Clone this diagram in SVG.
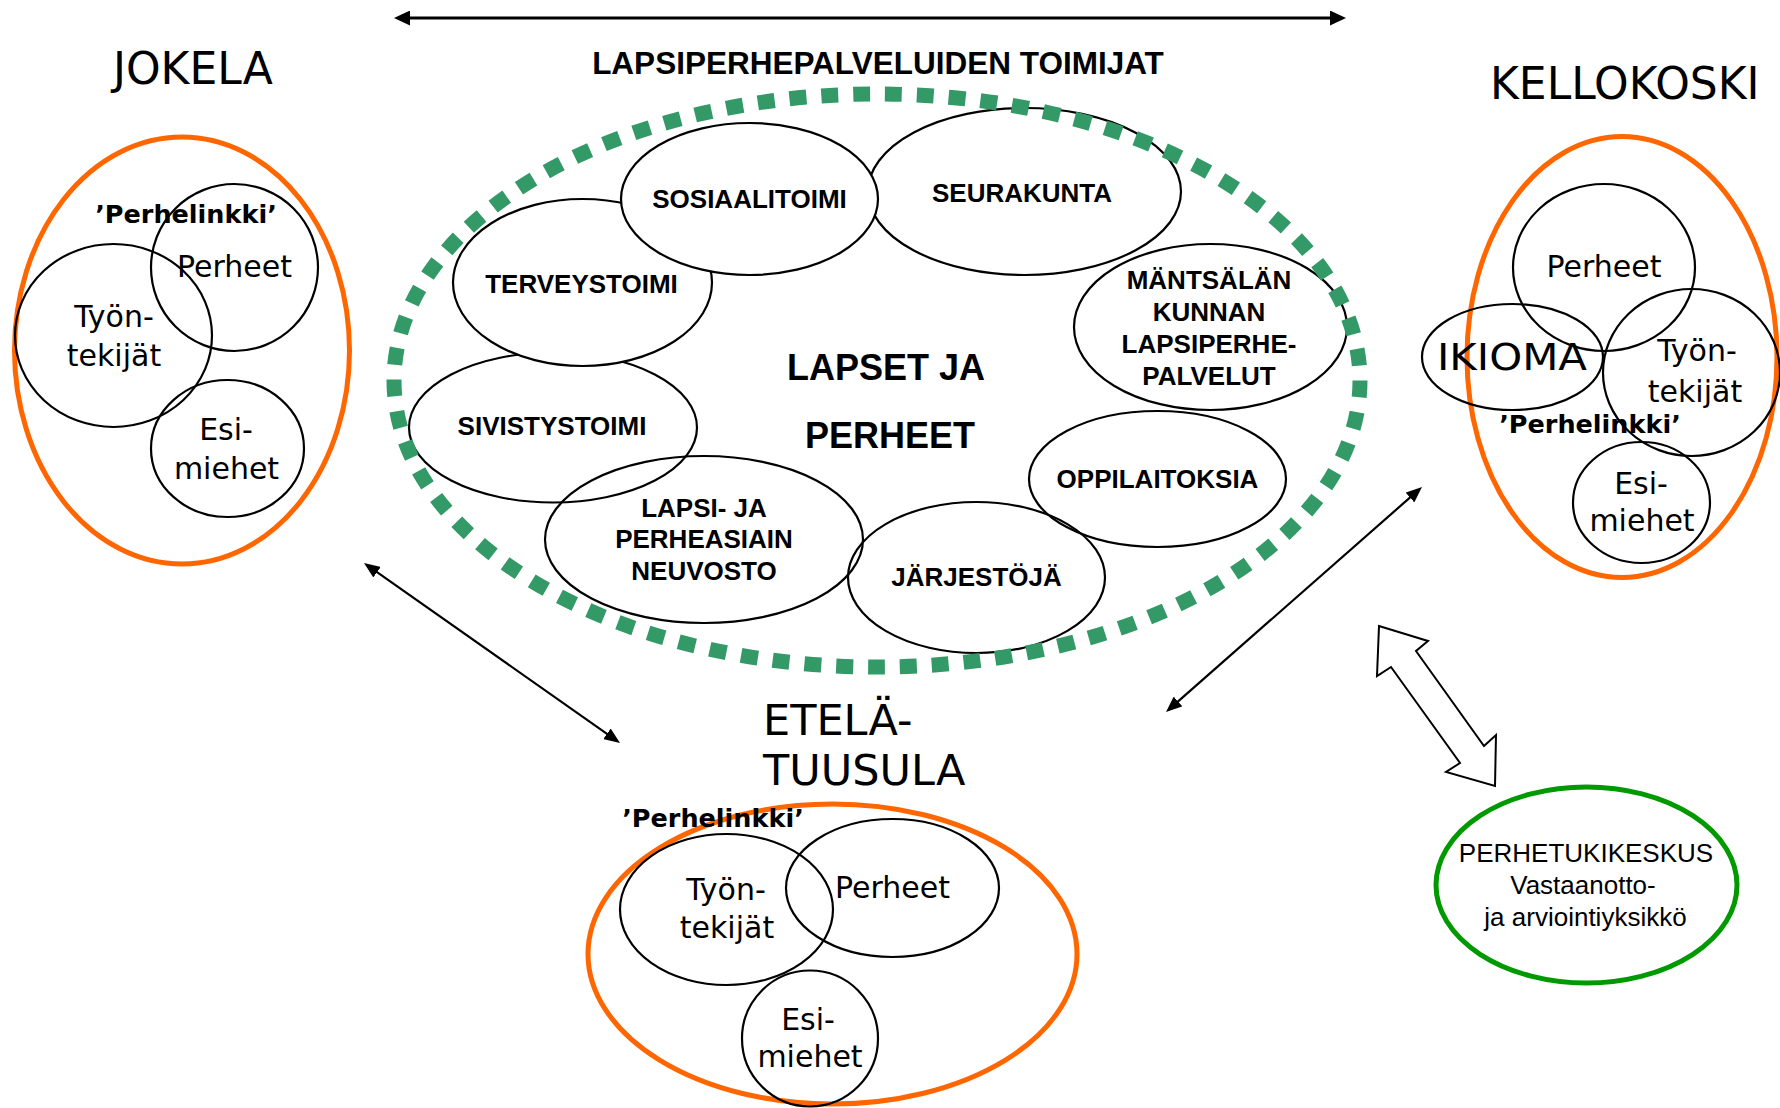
<svg xmlns="http://www.w3.org/2000/svg" width="1780" height="1108" viewBox="0 0 1780 1108">
<style>
.bg{fill:#fff}
.oval{fill:#fff;stroke:#000;stroke-width:2.2}
.ring{fill:none;stroke:#000;stroke-width:2.2}
.orange{fill:none;stroke:#ff6600;stroke-width:5}
.dots{fill:none;stroke:#339966;stroke-width:15;stroke-dasharray:17 15}
.green{fill:none;stroke:#009900;stroke-width:5}
.b26{font-family:"Liberation Sans",Arial,sans-serif;font-weight:bold;font-size:26px;text-anchor:middle;fill:#000}
.b36{font-family:"Liberation Sans",Arial,sans-serif;font-weight:bold;font-size:36px;text-anchor:middle;fill:#000}
.title{font-family:"Liberation Sans",Arial,sans-serif;font-weight:bold;font-size:31.5px;text-anchor:middle;fill:#000}
.r26{font-family:"Liberation Sans",Arial,sans-serif;font-size:26px;text-anchor:middle;fill:#000}
.place{font-family:"DejaVu Sans",sans-serif;font-size:44px;fill:#000}
.c30{font-family:"DejaVu Sans",sans-serif;font-size:30px;text-anchor:middle;fill:#000}
.link{font-family:"DejaVu Sans",sans-serif;font-weight:bold;font-size:25.5px;text-anchor:middle;fill:#000}
.conn{fill:none;stroke:#000;stroke-width:2.2}
.hollow{fill:#fff;stroke:#000;stroke-width:2}
</style>
<defs>
<marker id="ahBig" viewBox="0 0 16 15" refX="4" refY="7.5" markerWidth="16" markerHeight="15" markerUnits="userSpaceOnUse" orient="auto-start-reverse">
<path d="M0,0 L16,7.5 L0,15 Z" fill="#000"/>
</marker>
<marker id="ah" viewBox="0 0 16 13" refX="4" refY="6.5" markerWidth="16" markerHeight="13" markerUnits="userSpaceOnUse" orient="auto-start-reverse">
<path d="M0,0 L16,6.5 L0,13 Z" fill="#000"/>
</marker>
</defs>
<rect class="bg" x="0" y="0" width="1780" height="1108"/>

<g id="title">
<text class="title" x="878" y="74">LAPSIPERHEPALVELUIDEN TOIMIJAT</text>
</g>

<g id="center">
<g id="sivistystoimi"><ellipse class="oval" cx="553" cy="427.5" rx="144" ry="75"/></g>
<g id="terveystoimi"><ellipse class="oval" cx="582.5" cy="282.5" rx="129.5" ry="83.5"/></g>
<g id="seurakunta"><ellipse class="oval" cx="1024.5" cy="191.5" rx="156.5" ry="83.5"/></g>
<g id="sosiaalitoimi"><ellipse class="oval" cx="749.5" cy="199" rx="128.5" ry="76"/></g>
<g id="mantsala"><ellipse class="ring" cx="1210.5" cy="327" rx="136.5" ry="83"/></g>
<g id="lapsi-ja-perheasiain"><ellipse class="ring" cx="704" cy="539.5" rx="159" ry="83.5"/></g>
<g id="oppilaitoksia"><ellipse class="ring" cx="1157.5" cy="479" rx="128.5" ry="68"/></g>
<g id="jarjestoja"><ellipse class="ring" cx="976.5" cy="577.5" rx="128.5" ry="75.5"/></g>

<text class="b26" x="749.5" y="208">SOSIAALITOIMI</text>
<text class="b26" x="1022" y="202">SEURAKUNTA</text>
<text class="b26" x="581.5" y="293">TERVEYSTOIMI</text>
<text class="b26" x="1209" y="289">MÄNTSÄLÄN</text>
<text class="b26" x="1209" y="321">KUNNAN</text>
<text class="b26" x="1209" y="353">LAPSIPERHE-</text>
<text class="b26" x="1209" y="385">PALVELUT</text>
<text class="b26" x="552" y="435">SIVISTYSTOIMI</text>
<text class="b26" x="704" y="517">LAPSI- JA</text>
<text class="b26" x="704" y="548">PERHEASIAIN</text>
<text class="b26" x="704" y="580">NEUVOSTO</text>
<text class="b26" x="1157.5" y="488">OPPILAITOKSIA</text>
<text class="b26" x="976.5" y="586">JÄRJESTÖJÄ</text>
<g id="lapset-ja-perheet">
<text class="b36" x="886" y="380">LAPSET JA</text>
<text class="b36" x="890" y="448">PERHEET</text>
</g>
<ellipse class="dots" cx="877" cy="380.5" rx="483" ry="286.5" pathLength="2464"/>
</g>

<g id="jokela">
<text class="place" x="113" y="84">JOKELA</text>
<ellipse class="orange" cx="182" cy="350.5" rx="167.5" ry="213.5"/>
<ellipse class="ring" cx="234.5" cy="267.5" rx="83.5" ry="83.5"/>
<ellipse class="ring" cx="113.5" cy="335.5" rx="98.5" ry="91.5"/>
<ellipse class="ring" cx="227.5" cy="448.5" rx="76.5" ry="68.5"/>
<text class="link" x="186" y="223">’Perhelinkki’</text>
<text class="c30" x="234.5" y="277">Perheet</text>
<text class="c30" x="114" y="327">Työn-</text>
<text class="c30" x="114" y="366">tekijät</text>
<text class="c30" x="226" y="440">Esi-</text>
<text class="c30" x="226.5" y="479">miehet</text>
</g>

<g id="kellokoski">
<text class="place" x="1490" y="99">KELLOKOSKI</text>
<ellipse class="orange" cx="1622" cy="357" rx="155" ry="220.5"/>
<ellipse class="ring" cx="1604" cy="267.5" rx="91" ry="83.5"/>
<ellipse class="ring" cx="1512.5" cy="357" rx="90.5" ry="53"/>
<ellipse class="ring" cx="1691.5" cy="372.5" rx="88.5" ry="83.5"/>
<ellipse class="ring" cx="1641.5" cy="502.5" rx="68.5" ry="60.5"/>
<text class="c30" x="1604" y="277">Perheet</text>
<text class="c30" x="1512" y="370" style="font-size:38px" textLength="150" lengthAdjust="spacingAndGlyphs">IKIOMA</text>
<text class="c30" x="1697" y="361">Työn-</text>
<text class="c30" x="1695" y="402">tekijät</text>
<text class="link" x="1590" y="433">’Perhelinkki’</text>
<text class="c30" x="1641" y="494">Esi-</text>
<text class="c30" x="1642" y="531">miehet</text>
</g>

<g id="etela-tuusula">
<text class="place" x="763" y="735" style="font-size:43px">ETELÄ-</text>
<text class="place" x="763" y="785" style="font-size:43px">TUUSULA</text>
<ellipse class="orange" cx="832.5" cy="954" rx="244.5" ry="150"/>
<ellipse class="ring" cx="726.5" cy="909.5" rx="106.5" ry="75.5"/>
<ellipse class="ring" cx="892.5" cy="888" rx="106.5" ry="69"/>
<ellipse class="ring" cx="810" cy="1038.5" rx="68" ry="68"/>
<text class="link" x="713" y="827">’Perhelinkki’</text>
<text class="c30" x="726" y="900">Työn-</text>
<text class="c30" x="727" y="938">tekijät</text>
<text class="c30" x="892.5" y="898">Perheet</text>
<text class="c30" x="808" y="1030">Esi-</text>
<text class="c30" x="810" y="1067">miehet</text>
</g>

<g id="perhetukikeskus">
<ellipse class="green" cx="1586.5" cy="885" rx="150.5" ry="98"/>
<text class="r26" x="1586" y="862">PERHETUKIKESKUS</text>
<text class="r26" x="1583" y="894">Vastaanotto-</text>
<text class="r26" x="1585.5" y="926">ja arviointiyksikkö</text>
</g>

<g id="connectors">
<line class="conn" x1="406" y1="18" x2="1334" y2="18" style="stroke-width:2.8" marker-start="url(#ahBig)" marker-end="url(#ahBig)"/>
<line class="conn" x1="373.8" y1="569.9" x2="610.2" y2="736.1" marker-start="url(#ah)" marker-end="url(#ah)"/>
<line class="conn" x1="1413" y1="494.9" x2="1175" y2="704.1" marker-start="url(#ah)" marker-end="url(#ah)"/>
<polygon class="hollow" points="1379,626 1428,641 1416,651 1484,746 1496,735 1495,786 1446,772 1460,763 1391,667 1377,676"/>
</g>
</svg>
